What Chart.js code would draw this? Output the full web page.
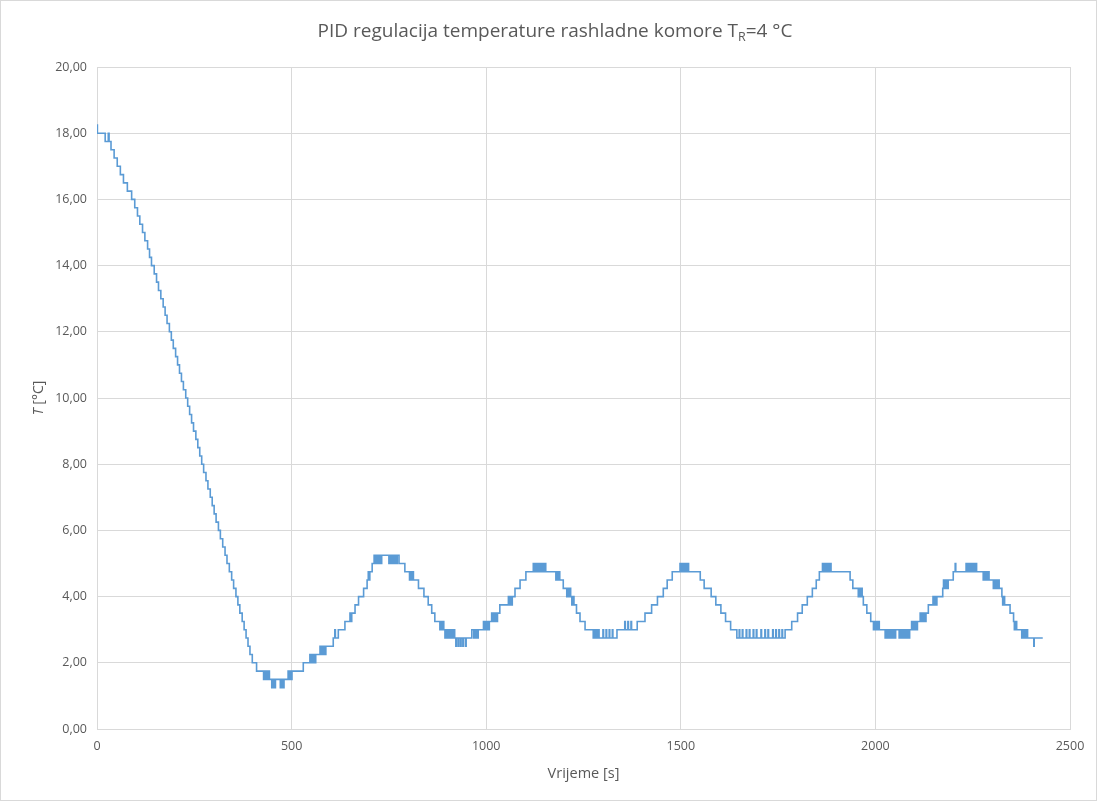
<!DOCTYPE html>
<html>
<head>
<meta charset="utf-8">
<script src="https://cdn.jsdelivr.net/npm/chart.js@4.4.0/dist/chart.umd.min.js"></script>
<style>
    html, body { margin: 0; padding: 0; background: #fff; }
    #wrap { position: relative; width: 1097px; height: 801px; box-sizing: border-box; border: 1px solid #d9d9d9; }
</style>
</head>
<body>
<div id="wrap"><canvas id="chart"></canvas></div>
<script>
// step points: [time s, temperature °C], each value holds until the next point
const descent = [
    [0, 18.25], [1, 18], [21, 17.75], [29, 18], [31, 17.75], [36, 17.5], [44, 17.25], [52, 17], [60, 16.75], [68, 16.5], [78, 16.25], [89, 16],
    [97, 15.75], [104, 15.5], [110, 15.25], [117, 15], [123, 14.75], [130, 14.5], [135, 14.25], [140, 14],
    [147, 13.75], [153, 13.5], [158, 13.25], [164, 13], [170, 12.75], [175, 12.5], [180, 12.25], [186, 12],
    [191, 11.75], [196, 11.5], [202, 11.25], [207, 11], [212, 10.75], [217, 10.5], [222, 10.25], [228, 10],
    [233, 9.75], [238, 9.5], [243, 9.25], [248, 9], [254, 8.75], [259, 8.5], [264, 8.25], [269, 8],
    [274, 7.75], [280, 7.5], [285, 7.25], [291, 7], [296, 6.75], [301, 6.5], [306, 6.25], [312, 6],
    [317, 5.75], [323, 5.5], [329, 5.25], [334, 5], [340, 4.75], [346, 4.5], [351, 4.25], [357, 4],
    [362, 3.75], [367, 3.5], [373, 3.25], [378, 3], [383, 2.75], [388, 2.5], [393, 2.25], [399, 2]
];
const cycle1 = [
    [410, 1.75], [428, 1.5], [430, 1.75], [433, 1.5], [435, 1.75], [438, 1.5], [440, 1.75], [443, 1.5],
    [449, 1.25], [450.5, 1.5], [453, 1.25], [454.5, 1.5], [457, 1.25], [458.5, 1.5],
    [471, 1.25], [472.5, 1.5], [475, 1.25], [476.5, 1.5], [479, 1.25], [480.5, 1.5],
    [491, 1.75], [493, 1.5], [496, 1.75], [498, 1.5], [501, 1.75],
    [530, 2], [547, 2.25], [549, 2], [552, 2.25], [554, 2], [557, 2.25], [559, 2], [562, 2.25],
    [573, 2.5], [575, 2.25], [578, 2.5], [580, 2.25], [583, 2.5], [585, 2.25], [588, 2.5],
    [607, 2.75], [611, 3], [612.5, 2.75], [620, 3], [637, 3.25], [650, 3.5], [653, 3.25], [654.5, 3.5],
    [663, 3.75], [672, 4], [685, 4.25], [694, 4.5], [697, 4.75], [698.5, 4.5], [701, 4.75], [707, 5],
    [712, 5.25], [715, 5], [716.5, 5.25], [720, 5], [721.5, 5.25], [725, 5], [726.5, 5.25], [730, 5], [731.5, 5.25],
    [750, 5], [751.5, 5.25], [755, 5], [756.5, 5.25], [760, 5], [761.5, 5.25], [765, 5], [766.5, 5.25], [770, 5], [771.5, 5.25], [776, 5],
    [791, 4.75], [803, 4.5], [804.5, 4.75], [808, 4.5], [809.5, 4.75], [813, 4.5], [826, 4.25], [840, 4], [851, 3.75], [860, 3.5], [868, 3.25],
    [881, 3], [883, 3.25], [886, 3], [888, 3.25], [891, 3],
    [894, 2.75], [896, 3], [899, 2.75], [901, 3], [904, 2.75], [906, 3], [909, 2.75], [911, 3], [914, 2.75], [916, 3], [919, 2.75],
    [922, 2.5], [923.5, 2.75], [928, 2.5], [929.5, 2.75], [934, 2.5], [935.5, 2.75], [940, 2.5], [941.5, 2.75], [947, 2.5], [948.5, 2.75]
];
const cycle2 = [
    [963, 3], [968, 2.75], [969.5, 3], [973, 2.75], [974.5, 3], [978, 2.75], [979.5, 3],
    [993, 3.25], [995, 3], [998, 3.25], [1000, 3], [1003, 3.25], [1005, 3], [1008, 3.25],
    [1014, 3.5], [1016, 3.25], [1019, 3.5], [1021, 3.25], [1024, 3.5], [1026, 3.25], [1029, 3.5],
    [1035, 3.75], [1057, 4], [1059, 3.75], [1062, 4], [1064, 3.75], [1067, 4],
    [1074, 4.25], [1087, 4.5], [1102, 4.75],
    [1121, 5], [1123, 4.75], [1126, 5], [1128, 4.75], [1131, 5], [1133, 4.75], [1136, 5], [1138, 4.75], [1141, 5], [1143, 4.75], [1146, 5], [1148, 4.75], [1151, 5], [1153, 4.75],
    [1179, 4.5], [1181, 4.75], [1184, 4.5], [1186, 4.75], [1189, 4.5], [1198, 4.25], [1207, 4], [1209, 4.25], [1212, 4], [1214, 4.25], [1217, 4],
    [1220, 3.75], [1224, 4], [1225.5, 3.75], [1232, 3.5], [1241, 3.25], [1254, 3],
    [1275, 2.75], [1277, 3], [1280, 2.75], [1282, 3], [1285, 2.75], [1287, 3], [1290, 2.75],
    [1300, 3], [1301.5, 2.75], [1308, 3], [1309.5, 2.75], [1316, 3], [1317.5, 2.75], [1324, 3], [1325.5, 2.75]
];
const cycle3 = [
    [1336, 3], [1356, 3.25], [1357.5, 3], [1364, 3.25], [1365.5, 3], [1372, 3.25], [1373.5, 3],
    [1388, 3.25], [1408, 3.5], [1425, 3.75], [1440, 4], [1455, 4.25], [1465, 4.5], [1478, 4.75],
    [1498, 5], [1500, 4.75], [1503, 5], [1505, 4.75], [1508, 5], [1510, 4.75], [1513, 5], [1515, 4.75], [1518, 5], [1520, 4.75],
    [1550, 4.5], [1560, 4.25], [1578, 4], [1590, 3.75], [1603, 3.5], [1615, 3.25], [1628, 3],
    [1644, 2.75], [1650, 3], [1651.5, 2.75], [1658, 3], [1659.5, 2.75], [1668, 3], [1669.5, 2.75], [1676, 3], [1677.5, 2.75],
    [1686, 3], [1687.5, 2.75], [1694, 3], [1695.5, 2.75], [1706, 3], [1707.5, 2.75], [1716, 3], [1717.5, 2.75],
    [1724, 3], [1725.5, 2.75], [1736, 3], [1737.5, 2.75], [1744, 3], [1745.5, 2.75], [1752, 3], [1753.5, 2.75], [1760, 3], [1761.5, 2.75]
];
const cycle4 = [
    [1768, 3], [1785, 3.25], [1800, 3.5], [1812, 3.75], [1825, 4], [1838, 4.25], [1848, 4.5], [1856, 4.75],
    [1864, 5], [1866, 4.75], [1869, 5], [1871, 4.75], [1874, 5], [1876, 4.75], [1879, 5], [1881, 4.75], [1884, 5], [1886, 4.75],
    [1935, 4.5], [1942, 4.25], [1956, 4], [1958, 4.25], [1961, 4], [1963, 4.25], [1966, 4], [1969, 3.75], [1978, 3.5], [1988, 3.25],
    [1995, 3], [1997, 3.25], [2000, 3], [2002, 3.25], [2005, 3], [2007, 3.25], [2010, 3],
    [2025, 2.75], [2027, 3], [2030, 2.75], [2032, 3], [2035, 2.75], [2037, 3], [2040, 2.75], [2042, 3], [2045, 2.75], [2047, 3], [2050, 2.75], [2052, 3],
    [2061, 2.75], [2063, 3], [2066, 2.75], [2068, 3], [2071, 2.75], [2073, 3], [2076, 2.75], [2078, 3], [2081, 2.75], [2083, 3], [2086, 2.75], [2088, 3]
];
const cycle5 = [
    [2093, 3.25], [2095, 3], [2098, 3.25], [2100, 3], [2103, 3.25], [2105, 3], [2108, 3.25],
    [2115, 3.5], [2117, 3.25], [2120, 3.5], [2122, 3.25], [2125, 3.5], [2127, 3.25], [2130, 3.5],
    [2136, 3.75], [2148, 4], [2150, 3.75], [2153, 4], [2155, 3.75], [2158, 4],
    [2173, 4.25], [2175, 4.5], [2178, 4.25], [2180, 4.5], [2183, 4.25], [2187, 4.5], [2200, 4.75],
    [2205, 5], [2206.5, 4.75], [2233, 5], [2235, 4.75], [2238, 5], [2240, 4.75], [2243, 5], [2245, 4.75], [2248, 5], [2250, 4.75], [2253, 5], [2255, 4.75], [2258, 5], [2260, 4.75],
    [2277, 4.5], [2279, 4.75], [2282, 4.5], [2284, 4.75], [2287, 4.5], [2289, 4.75], [2292, 4.5],
    [2303, 4.25], [2305, 4.5], [2308, 4.25], [2310, 4.5], [2313, 4.25], [2315, 4.5], [2318, 4.25],
    [2325, 4], [2327, 3.75], [2330, 4], [2332, 3.75], [2346, 3.5], [2355, 3.25], [2357, 3], [2359, 3.25], [2363, 3],
    [2376, 2.75], [2378, 3], [2381, 2.75], [2383, 3], [2386, 2.75], [2388, 3], [2391, 2.75], [2407, 2.5], [2408, 2.75], [2430, 2.75]
];

const xTicksMax = 2500;
const yTicksMax = 20;

const points = [...descent, ...cycle1, ...cycle2, ...cycle3, ...cycle4, ...cycle5].map(p => ({x: p[0], y: p[1]}));

const textColor = '#595959';
const fontFamily = '"Open Sans", "Noto Sans", sans-serif';

const labelsPlugin = {
    id: 'labels',
    afterDraw(chart) {
        const ctx = chart.ctx;
        const area = chart.chartArea;
        ctx.save();
        ctx.fillStyle = textColor;
        ctx.textBaseline = 'alphabetic';
        ctx.textAlign = 'left';

        // title with subscript R
        const main = 'PID regulacija temperature rashladne komore T';
        const sub = 'R';
        const tail = '=4 °C';
        const big = '19px ' + fontFamily;
        const small = '12.5px ' + fontFamily;
        ctx.font = big;
        const w1 = ctx.measureText(main).width;
        const w3 = ctx.measureText(tail).width;
        ctx.font = small;
        const w2 = ctx.measureText(sub).width;
        let x = 554 - (w1 + w2 + w3) / 2;
        const base = 36;
        ctx.font = big;
        ctx.fillText(main, x, base);
        x += w1;
        ctx.font = small;
        ctx.fillText(sub, x, base + 4);
        x += w2;
        ctx.font = big;
        ctx.fillText(tail, x, base);

        // x axis title
        ctx.font = '14.5px ' + fontFamily;
        ctx.textAlign = 'center';
        ctx.fillText('Vrijeme [s]', (area.left + area.right) / 2, 777);

        // y axis title, italic T
        ctx.translate(42, (area.top + area.bottom) / 2);
        ctx.rotate(-Math.PI / 2);
        ctx.font = 'italic 14px ' + fontFamily;
        const wt = ctx.measureText('T').width;
        ctx.font = '14px ' + fontFamily;
        const wr = ctx.measureText(' [°C]').width;
        ctx.textAlign = 'left';
        ctx.font = 'italic 14px ' + fontFamily;
        ctx.fillText('T', -(wt + wr) / 2, 0);
        ctx.font = '14px ' + fontFamily;
        ctx.fillText(' [°C]', -(wt + wr) / 2 + wt, 0);
        ctx.restore();
    }
};

new Chart(document.getElementById('chart'), {
    type: 'line',
    data: {
        datasets: [{
            label: 'T',
            data: points,
            borderColor: '#5b9bd5',
            borderWidth: 1.6,
            pointRadius: 0,
            stepped: true,
            fill: false
        }]
    },
    options: {
        responsive: true,
        maintainAspectRatio: false,
        animation: false,
        layout: { padding: { top: 66, right: 26, left: 0, bottom: 0 } },
        plugins: {
            legend: { display: false },
            tooltip: { enabled: false },
            title: { display: false }
        },
        scales: {
            x: {
                type: 'linear',
                min: 0,
                max: xTicksMax,
                afterFit(scale) { scale.height = 71; },
                grid: { color: '#d9d9d9', drawTicks: false },
                border: { color: '#d9d9d9' },
                ticks: {
                    stepSize: 500,
                    padding: 10,
                    color: textColor,
                    font: { family: fontFamily, size: 12.5 },
                    maxRotation: 0,
                    callback: v => String(v)
                }
            },
            y: {
                min: 0,
                max: yTicksMax,
                afterFit(scale) { scale.width = 96; },
                grid: { color: '#d9d9d9', drawTicks: false },
                border: { color: '#d9d9d9' },
                ticks: {
                    stepSize: 2,
                    padding: 10,
                    color: textColor,
                    font: { family: fontFamily, size: 12.5 },
                    callback: v => v.toFixed(2).replace('.', ',')
                }
            }
        }
    },
    plugins: [labelsPlugin]
});
</script>
</body>
</html>
